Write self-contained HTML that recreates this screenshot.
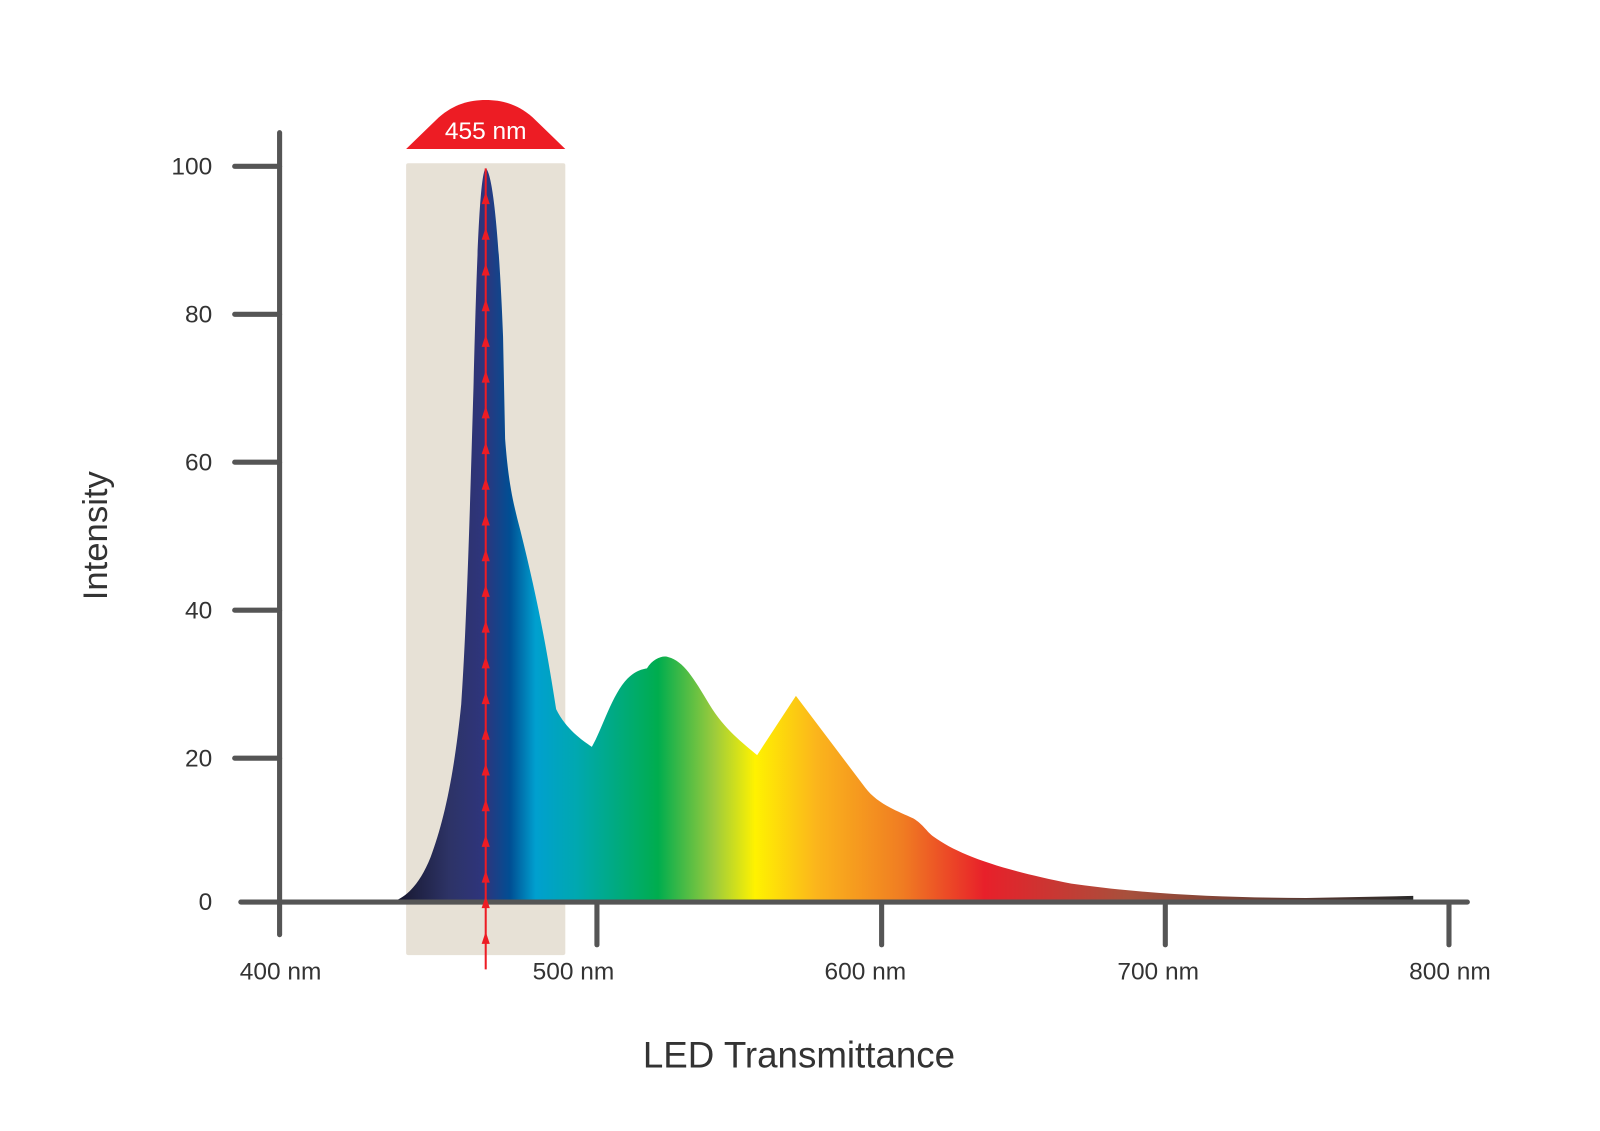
<!DOCTYPE html>
<html><head><style>html,body{margin:0;padding:0;background:#fff;}svg{display:block}</style></head>
<body>
<svg width="1600" height="1131" viewBox="0 0 1568 1108.4" preserveAspectRatio="none" xmlns="http://www.w3.org/2000/svg">
<defs>
<linearGradient id="sp" gradientUnits="userSpaceOnUse" x1="385" y1="0" x2="1385" y2="0">
<stop offset="0" stop-color="#15152a"/>
<stop offset="0.055" stop-color="#2d3366"/>
<stop offset="0.09" stop-color="#2e357d"/>
<stop offset="0.115" stop-color="#004f94"/>
<stop offset="0.14" stop-color="#00a0cf"/>
<stop offset="0.18" stop-color="#00a8b0"/>
<stop offset="0.26" stop-color="#00ad4e"/>
<stop offset="0.315" stop-color="#9ccb3c"/>
<stop offset="0.355" stop-color="#fff200"/>
<stop offset="0.415" stop-color="#fbb51c"/>
<stop offset="0.5" stop-color="#f07c22"/>
<stop offset="0.58" stop-color="#e8202a"/>
<stop offset="0.72" stop-color="#a8503c"/>
<stop offset="1" stop-color="#2a2a2a"/>
</linearGradient>
</defs>
<rect x="398" y="160" width="156" height="776" rx="2" fill="#e7e1d6"/>
<path d="M398,146 L430,115 C445,102 460,98 476,98 C492,98 507,102 522,115 L554,146 Z" fill="#ed1c24"/>
<text x="476" y="136" font-family="Liberation Sans, sans-serif" font-size="24" fill="#fff" text-anchor="middle">455 nm</text>
<path d="M385,884 C400,878 412,865 422,840 C435,805 445,760 452,690 C458,600 461,480 464,380 C467,260 470,170 476,165 C484,170 490,250 493,330 L495,430 C498,470 502,490 510,520 C525,580 535,630 545,695 C555,715 570,725 580,732 C590,715 600,680 615,665 C622,658 628,656 634,655 C640,645 650,642 655,644 C670,648 680,665 695,690 C710,715 728,728 742,740 L780,682 L848,772 C860,788 880,795 895,802 C905,808 908,815 915,820 C940,838 980,852 1050,866 C1120,876 1200,880 1280,880 L1385,878 L1385,884 Z" fill="url(#sp)"/>
<g stroke="#555" stroke-width="5" stroke-linecap="round" fill="none">
<line x1="274" y1="130" x2="274" y2="916"/>
<line x1="236" y1="884" x2="1438" y2="884"/>
<line x1="230" y1="163" x2="274" y2="163"/>
<line x1="230" y1="308" x2="274" y2="308"/>
<line x1="230" y1="453" x2="274" y2="453"/>
<line x1="230" y1="598" x2="274" y2="598"/>
<line x1="230" y1="743" x2="274" y2="743"/>
<line x1="585" y1="884" x2="585" y2="926"/>
<line x1="864" y1="884" x2="864" y2="926"/>
<line x1="1142" y1="884" x2="1142" y2="926"/>
<line x1="1420" y1="884" x2="1420" y2="926"/>
</g>
<line x1="476" y1="165" x2="476" y2="950" stroke="#ed1c24" stroke-width="2"/>
<g fill="#ed1c24">
<path d="M476,188 l-4,12 h8z"/><path d="M476,223 l-4,12 h8z"/><path d="M476,258 l-4,12 h8z"/><path d="M476,293 l-4,12 h8z"/><path d="M476,328 l-4,12 h8z"/><path d="M476,363 l-4,12 h8z"/><path d="M476,398 l-4,12 h8z"/><path d="M476,433 l-4,12 h8z"/><path d="M476,468 l-4,12 h8z"/><path d="M476,503 l-4,12 h8z"/><path d="M476,538 l-4,12 h8z"/><path d="M476,573 l-4,12 h8z"/><path d="M476,608 l-4,12 h8z"/><path d="M476,643 l-4,12 h8z"/><path d="M476,678 l-4,12 h8z"/><path d="M476,713 l-4,12 h8z"/><path d="M476,748 l-4,12 h8z"/><path d="M476,783 l-4,12 h8z"/><path d="M476,818 l-4,12 h8z"/><path d="M476,853 l-4,12 h8z"/><path d="M476,878 l-4,12 h8z"/><path d="M476,913 l-4,12 h8z"/>
</g>
<g font-family="Liberation Sans, sans-serif" font-size="24" fill="#333">
<text x="208" y="171" text-anchor="end">100</text>
<text x="208" y="316" text-anchor="end">80</text>
<text x="208" y="461" text-anchor="end">60</text>
<text x="208" y="606" text-anchor="end">40</text>
<text x="208" y="751" text-anchor="end">20</text>
<text x="208" y="892" text-anchor="end">0</text>
<text x="275" y="960" text-anchor="middle">400 nm</text>
<text x="562" y="960" text-anchor="middle">500 nm</text>
<text x="848" y="960" text-anchor="middle">600 nm</text>
<text x="1135" y="960" text-anchor="middle">700 nm</text>
<text x="1421" y="960" text-anchor="middle">800 nm</text>
</g>
<text x="783" y="1046" font-family="Liberation Sans, sans-serif" font-size="36" fill="#333" text-anchor="middle">LED Transmittance</text>
<text transform="translate(105,525) rotate(-90)" font-family="Liberation Sans, sans-serif" font-size="34" fill="#333" text-anchor="middle">Intensity</text>
</svg>
</body></html>
